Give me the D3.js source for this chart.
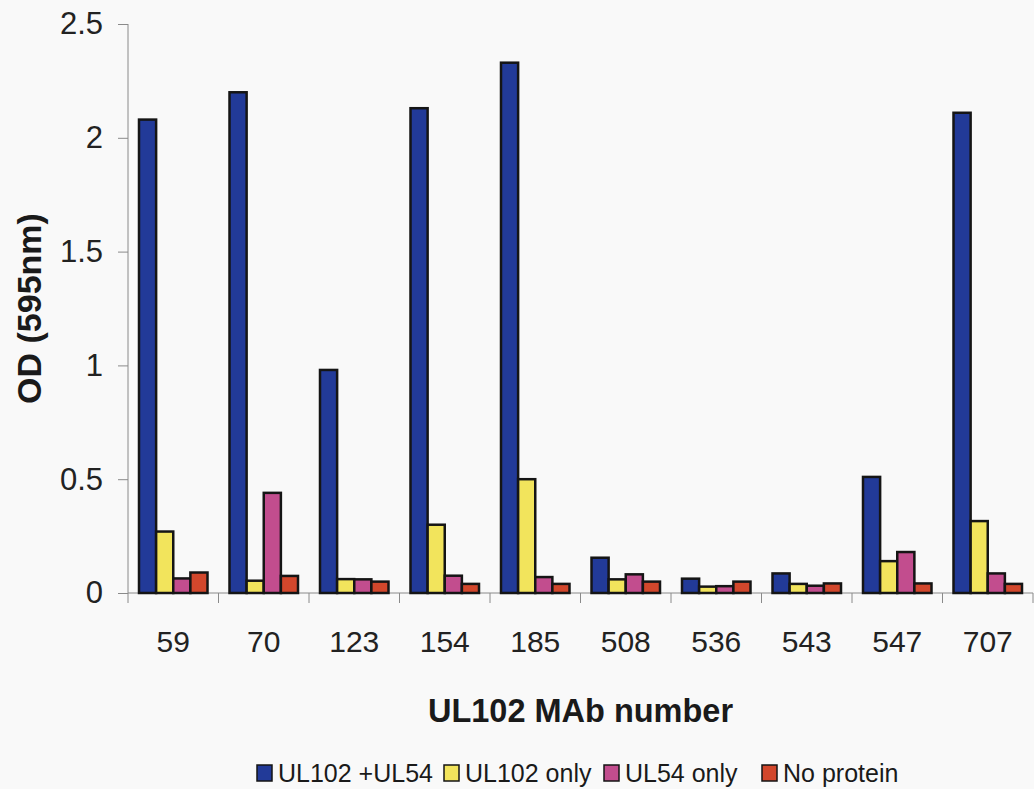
<!DOCTYPE html>
<html>
<head>
<meta charset="utf-8">
<script src="https://cdn.jsdelivr.net/npm/d3@7"></script>
<style>
  html, body { margin: 0; padding: 0; background: #f9f9f9; }
  svg { display: block; font-family: "Liberation Sans", Arial, sans-serif; }
</style>
</head>
<body>
<svg id="chart" width="1034" height="789"></svg>
<script>
// MAb numbers along the x axis
const categories = ["59", "70", "123", "154", "185", "508", "536", "543", "547", "707"];

// Series names and OD readings (595 nm) per MAb
const seriesNames = ["UL102 +UL54", "UL102 only", "UL54 only", "No protein"];
const ul102PlusUl54 = [2.08, 2.20, 0.98, 2.13, 2.33, 0.155, 0.063, 0.086, 0.51, 2.11];
const ul102Only     = [0.27, 0.054, 0.061, 0.30, 0.50, 0.06, 0.028, 0.04, 0.14, 0.316];
const ul54Only      = [0.064, 0.44, 0.06, 0.076, 0.07, 0.082, 0.03, 0.032, 0.18, 0.086];
const noProtein     = [0.09, 0.075, 0.05, 0.04, 0.04, 0.05, 0.05, 0.042, 0.042, 0.04];
const seriesValues = [ul102PlusUl54, ul102Only, ul54Only, noProtein];
const seriesColors = ["#223a98", "#f2e45c", "#c24d8e", "#d2472c"];

const yTicks = [0, 0.5, 1, 1.5, 2, 2.5];

const svg = d3.select("#chart");
const plot = { left: 128, right: 1033, top: 24, bottom: 593 };

const x = d3.scaleBand().domain(categories).range([plot.left, plot.right]).paddingInner(0).paddingOuter(0);
const xInner = d3.scaleBand().domain(seriesNames).range([11, x.bandwidth() - 11]).padding(0);
const y = d3.scaleLinear().domain([0, 2.5]).range([plot.bottom, plot.top]);

// Y axis
const yAxis = svg.append("g")
  .attr("transform", `translate(${plot.left},0)`)
  .call(d3.axisLeft(y).tickValues(yTicks).tickSize(10).tickPadding(15).tickFormat(d3.format("")));
yAxis.select(".domain").attr("stroke", "#8a8a8a").attr("d", `M0,${y(2.5)}V${plot.bottom}`);
yAxis.selectAll(".tick line").attr("stroke", "#8a8a8a");
yAxis.selectAll(".tick text").attr("font-size", 31).attr("fill", "#222");

// X axis: tick marks sit on the category boundaries
const xAxisG = svg.append("g").attr("transform", `translate(0,${plot.bottom})`);
xAxisG.append("line")
  .attr("x1", plot.left).attr("x2", plot.right)
  .attr("stroke", "#8a8a8a");
const boundaries = categories.map(c => x(c)).concat([plot.right]);
xAxisG.selectAll("line.tk").data(boundaries).join("line")
  .attr("class", "tk")
  .attr("x1", d => d).attr("x2", d => d)
  .attr("y1", 0).attr("y2", 10)
  .attr("stroke", "#8a8a8a");
xAxisG.selectAll("text").data(categories).join("text")
  .attr("x", d => x(d) + x.bandwidth() / 2)
  .attr("y", 59)
  .attr("text-anchor", "middle")
  .attr("font-size", 30)
  .attr("fill", "#222")
  .text(d => d);

// Bars
const groups = svg.append("g").selectAll("g").data(categories).join("g")
  .attr("transform", d => `translate(${x(d)},0)`);
groups.selectAll("rect")
  .data((c, i) => seriesNames.map((s, k) => ({ s, k, v: seriesValues[k][i] })))
  .join("rect")
  .attr("x", d => xInner(d.s))
  .attr("width", xInner.bandwidth())
  .attr("y", d => y(d.v))
  .attr("height", d => y(0) - y(d.v))
  .attr("fill", d => seriesColors[d.k])
  .attr("stroke", "#151515")
  .attr("stroke-width", 2.5);

// Axis titles
svg.append("text")
  .attr("x", (plot.left + plot.right) / 2)
  .attr("y", 722)
  .attr("text-anchor", "middle")
  .attr("font-size", 32.5)
  .attr("font-weight", "bold")
  .attr("fill", "#1a1a1a")
  .text("UL102 MAb number");

svg.append("text")
  .attr("transform", `translate(41,${(plot.top + plot.bottom) / 2}) rotate(-90)`)
  .attr("text-anchor", "middle")
  .attr("font-size", 34)
  .attr("font-weight", "bold")
  .attr("fill", "#1a1a1a")
  .text("OD (595nm)");

// Legend along the bottom
const legend = svg.append("g").attr("transform", "translate(257,773)");
const legendX = [0, 187, 347, 505];
const item = legend.selectAll("g").data(seriesNames).join("g")
  .attr("transform", (d, i) => `translate(${legendX[i]},0)`);
item.append("rect")
  .attr("x", 0).attr("y", -8).attr("width", 15).attr("height", 16)
  .attr("fill", (d, i) => seriesColors[i])
  .attr("stroke", "#151515").attr("stroke-width", 1.5);
item.append("text")
  .attr("x", 21).attr("y", 9)
  .attr("font-size", 25)
  .attr("fill", "#1a1a1a")
  .text(d => d);
</script>
</body>
</html>
